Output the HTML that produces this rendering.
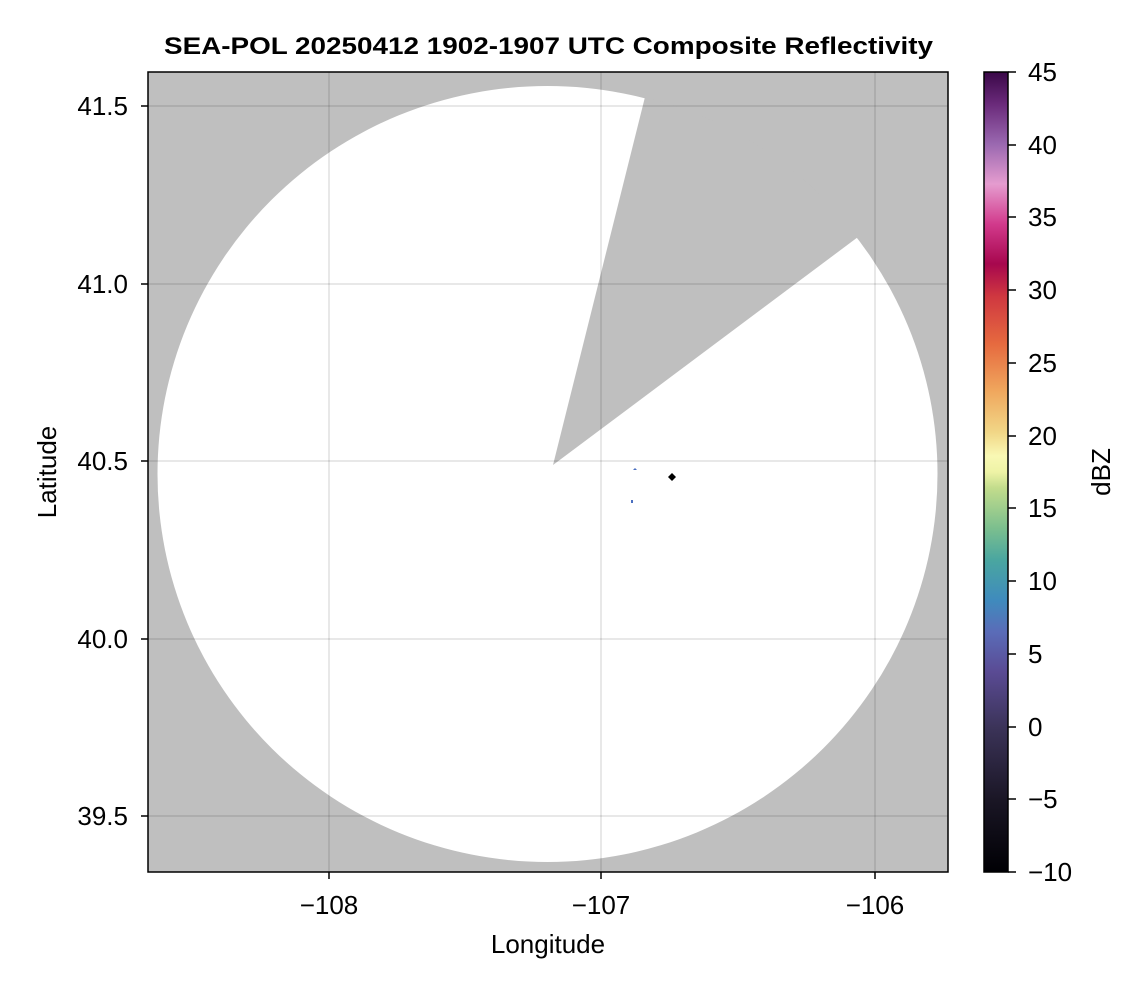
<!DOCTYPE html>
<html><head><style>
body{margin:0;background:#fff;}
svg{display:block;font-family:"Liberation Sans",Arial,sans-serif;}
</style></head><body>
<svg width="1146" height="990" viewBox="0 0 1146 990">
<defs>
<linearGradient id="cb" x1="0" y1="1" x2="0" y2="0">
<stop offset="0" stop-color="#000004"/>
<stop offset="0.09" stop-color="#1a1625"/>
<stop offset="0.18" stop-color="#3b3358"/>
<stop offset="0.25" stop-color="#5a4b94"/>
<stop offset="0.3" stop-color="#5a6cb8"/>
<stop offset="0.34" stop-color="#3f8bbd"/>
<stop offset="0.39" stop-color="#4aa6a0"/>
<stop offset="0.43" stop-color="#7cbf8e"/>
<stop offset="0.48" stop-color="#c2dc8c"/>
<stop offset="0.5" stop-color="#eef3a6"/>
<stop offset="0.52" stop-color="#f9f8b4"/>
<stop offset="0.55" stop-color="#f1d686"/>
<stop offset="0.6" stop-color="#f0a85e"/>
<stop offset="0.66" stop-color="#e66a3f"/>
<stop offset="0.72" stop-color="#cf3740"/>
<stop offset="0.76" stop-color="#a7074e"/>
<stop offset="0.81" stop-color="#d23a8c"/>
<stop offset="0.86" stop-color="#e59ccf"/>
<stop offset="0.91" stop-color="#9a68b0"/>
<stop offset="0.96" stop-color="#6a2a7a"/>
<stop offset="1" stop-color="#3a0848"/>
</linearGradient>
<clipPath id="pa"><rect x="148" y="72" width="800" height="800"/></clipPath>
</defs>
<text x="164" y="54" font-size="24" font-weight="bold" textLength="769" lengthAdjust="spacingAndGlyphs">SEA-POL 20250412 1902-1907 UTC Composite Reflectivity</text>
<g clip-path="url(#pa)">
<rect x="148" y="72" width="800" height="800" fill="#bfbfbf"/>
<ellipse cx="547.5" cy="474" rx="390" ry="388" fill="#fff"/>
<path d="M553,465 L645,97 A390,388 0 0 1 858,237 Z" fill="#bfbfbf"/>
<g stroke="#000" stroke-opacity="0.12" stroke-width="1.5">
<line x1="329" y1="72" x2="329" y2="872"/>
<line x1="601" y1="72" x2="601" y2="872"/>
<line x1="875" y1="72" x2="875" y2="872"/>
<line x1="148" y1="106" x2="948" y2="106"/>
<line x1="148" y1="284" x2="948" y2="284"/>
<line x1="148" y1="461" x2="948" y2="461"/>
<line x1="148" y1="639" x2="948" y2="639"/>
<line x1="148" y1="816" x2="948" y2="816"/>
</g>
<path d="M633,470 L635,468 L637,470 Z" fill="#4a6fc0"/>
<rect x="631" y="500" width="2" height="3" fill="#4a6fc0"/>
<path d="M672,473 L676,477 L672,481 L668,477 Z" fill="#000"/>
</g>
<rect x="148" y="72" width="800" height="800" fill="none" stroke="#000" stroke-width="1.5"/>
<g stroke="#000" stroke-width="1.5">
<line x1="329" y1="872" x2="329" y2="879"/><line x1="601" y1="872" x2="601" y2="879"/><line x1="875" y1="872" x2="875" y2="879"/>
<line x1="141" y1="106" x2="148" y2="106"/><line x1="141" y1="284" x2="148" y2="284"/><line x1="141" y1="461" x2="148" y2="461"/><line x1="141" y1="639" x2="148" y2="639"/><line x1="141" y1="816" x2="148" y2="816"/>
</g>
<g font-size="26" text-anchor="middle">
<text x="329" y="914">−108</text><text x="601" y="914">−107</text><text x="875" y="914">−106</text>
<text x="548" y="953">Longitude</text>
</g>
<g font-size="26" text-anchor="end">
<text x="128" y="115">41.5</text><text x="128" y="293">41.0</text><text x="128" y="470">40.5</text><text x="128" y="648">40.0</text><text x="128" y="825">39.5</text>
</g>
<text transform="translate(56,472) rotate(-90)" font-size="26" text-anchor="middle">Latitude</text>
<rect x="984" y="72" width="24" height="800" fill="url(#cb)"/>
<rect x="984" y="72" width="24" height="800" fill="none" stroke="#000" stroke-width="1.5"/>
<g stroke="#000" stroke-width="1.5">
<line x1="1008" y1="72" x2="1016" y2="72"/><line x1="1008" y1="145" x2="1016" y2="145"/><line x1="1008" y1="217" x2="1016" y2="217"/><line x1="1008" y1="290" x2="1016" y2="290"/><line x1="1008" y1="363" x2="1016" y2="363"/><line x1="1008" y1="436" x2="1016" y2="436"/><line x1="1008" y1="508" x2="1016" y2="508"/><line x1="1008" y1="581" x2="1016" y2="581"/><line x1="1008" y1="654" x2="1016" y2="654"/><line x1="1008" y1="727" x2="1016" y2="727"/><line x1="1008" y1="799" x2="1016" y2="799"/><line x1="1008" y1="872" x2="1016" y2="872"/>
</g>
<g font-size="26">
<text x="1028" y="81">45</text><text x="1028" y="154">40</text><text x="1028" y="226">35</text><text x="1028" y="299">30</text><text x="1028" y="372">25</text><text x="1028" y="445">20</text><text x="1028" y="517">15</text><text x="1028" y="590">10</text><text x="1028" y="663">5</text><text x="1028" y="736">0</text><text x="1028" y="808">−5</text><text x="1028" y="881">−10</text>
</g>
<text transform="translate(1110,472) rotate(-90)" font-size="26" text-anchor="middle">dBZ</text>
</svg>
</body></html>
